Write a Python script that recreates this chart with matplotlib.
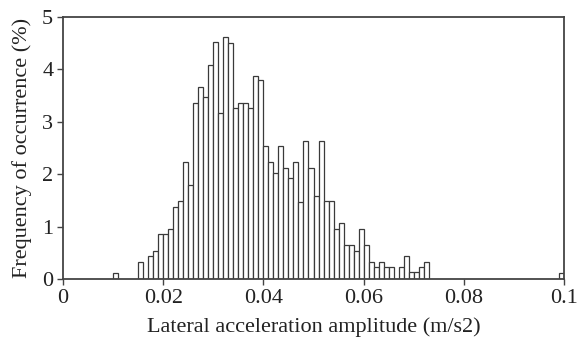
import matplotlib
matplotlib.use("Agg")
import matplotlib.pyplot as plt
from matplotlib.ticker import FuncFormatter

# histogram, bin width 0.001 m/s2
bin_width = 0.001
bin_starts = [0.010, 0.015, 0.016, 0.017, 0.018, 0.019, 0.020, 0.021, 0.022, 0.023,
              0.024, 0.025, 0.026, 0.027, 0.028, 0.029, 0.030, 0.031, 0.032, 0.033,
              0.034, 0.035, 0.036, 0.037, 0.038, 0.039, 0.040, 0.041, 0.042, 0.043,
              0.044, 0.045, 0.046, 0.047, 0.048, 0.049, 0.050, 0.051, 0.052, 0.053,
              0.054, 0.055, 0.056, 0.057, 0.058, 0.059, 0.060, 0.061, 0.062, 0.063,
              0.064, 0.065, 0.066, 0.067, 0.068, 0.069, 0.070, 0.071, 0.072, 0.099]
freq = [0.12, 0.33, 0.0, 0.43, 0.54, 0.85, 0.85, 0.95, 1.38, 1.48,
        2.23, 1.79, 3.35, 3.67, 3.47, 4.08, 4.52, 3.16, 4.61, 4.50,
        3.27, 3.35, 3.35, 3.27, 3.88, 3.79, 2.53, 2.23, 2.02, 2.53,
        2.11, 1.92, 2.23, 1.46, 2.63, 2.11, 1.58, 2.63, 1.48, 1.48,
        0.95, 1.06, 0.65, 0.65, 0.54, 0.95, 0.65, 0.33, 0.22, 0.33,
        0.22, 0.22, 0.0, 0.22, 0.43, 0.13, 0.13, 0.22, 0.33, 0.12]

x_ticks = [0, 0.02, 0.04, 0.06, 0.08, 0.1]
y_ticks = [0, 1, 2, 3, 4, 5]

plt.rcParams['font.family'] = ['Liberation Serif', 'DejaVu Serif']

fig = plt.figure(figsize=(5.81, 3.46), dpi=100)
ax = fig.add_axes([63 / 581, 1 - 279 / 346, (564 - 63) / 581, (279 - 17) / 346])

ax.bar(bin_starts, freq, width=bin_width, align='edge', color='white',
       edgecolor='#3a3a3a', linewidth=0.9)

ax.set_xlim(0, 0.1)
ax.set_ylim(0, 5)
ax.set_xticks(x_ticks)
ax.set_yticks(y_ticks)
ax.xaxis.set_major_formatter(FuncFormatter(lambda v, p: f"{v:g}"))

for s in ax.spines.values():
    s.set_color('#444444')
    s.set_linewidth(1.3)
ax.tick_params(direction='out', length=4, width=1, color='#444444',
               labelsize=16, pad=3, labelcolor='#222222')

ax.set_xlabel('Lateral acceleration amplitude (m/s2)', fontsize=16, color='#222222', labelpad=7)
ax.set_ylabel('Frequency of occurrence (%)', fontsize=16, color='#222222', labelpad=7)

fig.savefig('out.png', dpi=100)
